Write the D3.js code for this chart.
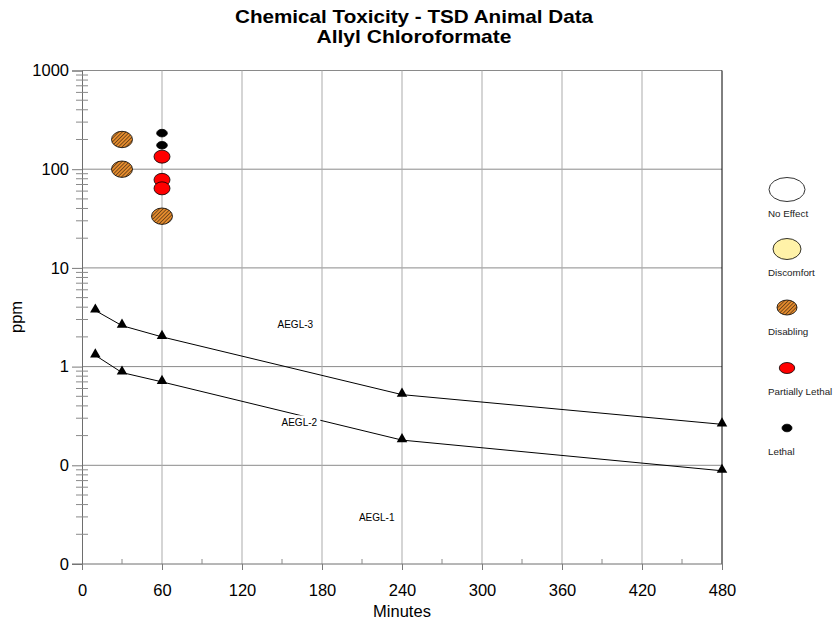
<!DOCTYPE html>
<html><head><meta charset="utf-8">
<script src="https://cdn.jsdelivr.net/npm/d3@7/dist/d3.min.js"></script>
<style>body{margin:0;background:#fff}svg{display:block;font-family:"Liberation Sans",Arial,sans-serif}</style>
</head><body><svg id="c" width="833" height="623"></svg>
<script>
// ---- data ----
const titleLines = ["Chemical Toxicity - TSD Animal Data", "Allyl Chloroformate"];
const xTicks = [0, 60, 120, 180, 240, 300, 360, 420, 480];
const xMinorTicks = [30, 90, 150, 210, 270, 330, 390, 450];
const yTicks = [0.01, 0.1, 1, 10, 100, 1000];
const yTickLabels = ["0", "0", "1", "10", "100", "1000"];
const aeglTimes = [10, 30, 60, 240, 480];
const aegl3 = [3.7, 2.6, 2.0, 0.52, 0.26];
const aegl2 = [1.3, 0.87, 0.70, 0.18, 0.088];
const disablingTimes = [30, 30, 60];
const disablingPpm = [200, 100, 33.4];
const partialTimes = [60, 60, 60];
const partialPpm = [134, 78, 64];
const lethalTimes = [60, 60];
const lethalPpm = [232, 175];
const legendLabels = ["No Effect", "Discomfort", "Disabling", "Partially Lethal", "Lethal"];
const aeglLabels = ["AEGL-3", "AEGL-2", "AEGL-1"];
const aeglLabelPos = [[160, 2.7], [163, 0.272], [221, 0.0296]]; // [minutes, ppm] label centres

// ---- layout ----
const L = 82, R = 722, T = 70.5, B = 564;
const svg = d3.select("#c");
const x = d3.scaleLinear().domain([0, 480]).range([L, R]);
const y = d3.scaleLog().domain([0.01, 1000]).range([B, T]);

const defs = svg.append("defs");
const pat = defs.append("pattern").attr("id", "hatch").attr("patternUnits", "userSpaceOnUse")
  .attr("width", 2.6).attr("height", 2.6).attr("patternTransform", "rotate(45)");
pat.append("rect").attr("width", 2.6).attr("height", 2.6).attr("fill", "#e58c2e");
pat.append("line").attr("x1", 0).attr("y1", 0).attr("x2", 0).attr("y2", 2.6).attr("stroke", "#2a1a0a").attr("stroke-width", 1.1);

// title
const titleW = [358, 195];
svg.append("g").selectAll("text").data(titleLines).join("text")
  .attr("x", 414).attr("y", (d, i) => 23 + i * 20).attr("text-anchor", "middle")
  .attr("font-size", 18.5).attr("font-weight", "bold").attr("fill", "#000")
  .attr("textLength", (d, i) => titleW[i]).attr("lengthAdjust", "spacingAndGlyphs")
  .text(d => d);

// gridlines
const grid = svg.append("g");
grid.selectAll(".hg").data(yTicks.filter(v => v > 0.01)).join("line")
  .attr("x1", L).attr("x2", R).attr("y1", d => y(d)).attr("y2", d => y(d))
  .attr("stroke", "#8a8a8a").attr("stroke-width", 1);
grid.selectAll(".vg").data(xTicks.filter(v => v > 0 && v < 480)).join("line")
  .attr("x1", d => x(d)).attr("x2", d => x(d)).attr("y1", T).attr("y2", B)
  .attr("stroke", "#ababab").attr("stroke-width", 1);
// right border
svg.append("line").attr("x1", x(480)).attr("x2", x(480)).attr("y1", T).attr("y2", B)
  .attr("stroke", "#000").attr("stroke-width", 1);

// y axis
const minor = [];
[0.01, 0.1, 1, 10, 100].forEach(d => { for (let k = 2; k <= 9; k++) minor.push(k * d); });
const yAxis = d3.axisLeft(y).tickValues(yTicks).tickSize(10).tickPadding(3)
  .tickFormat((d, i) => yTickLabels[i]);
const ya = svg.append("g").attr("transform", `translate(${L},0)`).call(yAxis);
ya.select(".domain").attr("stroke", "#6e6e6e");
ya.selectAll(".tick line").attr("stroke", "#7a7a7a");
ya.selectAll(".tick text").attr("font-size", 16.5).attr("fill", "#000").attr("font-family", "Liberation Sans, Arial, sans-serif");
svg.append("g").selectAll("line").data(minor).join("line")
  .attr("x1", L - 6).attr("x2", L + 6).attr("y1", d => y(d)).attr("y2", d => y(d))
  .attr("stroke", "#8a8a8a");

// x axis
const xAxis = d3.axisBottom(x).tickValues(xTicks).tickSize(6).tickPadding(14);
const xa = svg.append("g").attr("transform", `translate(0,${B})`).call(xAxis);
xa.select(".domain").attr("stroke", "#6e6e6e").attr("d", `M${L - 10},0H${R}`);
xa.selectAll(".tick line").attr("stroke", "#7a7a7a");
xa.selectAll(".tick text").attr("font-size", 16.5).attr("fill", "#000").attr("font-family", "Liberation Sans, Arial, sans-serif");
svg.append("g").selectAll("line").data(xMinorTicks).join("line")
  .attr("x1", d => x(d)).attr("x2", d => x(d)).attr("y1", B - 5).attr("y2", B)
  .attr("stroke", "#8a8a8a");

// axis titles
svg.append("text").attr("x", x(240)).attr("y", 617).attr("text-anchor", "middle")
  .attr("font-size", 16.5).text("Minutes");
svg.append("text").attr("transform", "translate(22,317) rotate(-90)").attr("text-anchor", "middle")
  .attr("font-size", 16.5).text("ppm");

// AEGL lines
const line = d3.line().x(d => x(d[0])).y(d => y(d[1]));
[aegl3, aegl2].forEach(vals => {
  const pts = aeglTimes.map((t, i) => [t, vals[i]]);
  svg.append("path").datum(pts).attr("d", line).attr("fill", "none").attr("stroke", "#000").attr("stroke-width", 1);
  svg.append("g").selectAll("path").data(pts).join("path")
    .attr("transform", d => `translate(${x(d[0])},${y(d[1]) - 1})`)
    .attr("d", d3.symbol(d3.symbolTriangle, 48)).attr("fill", "#000");
});

// AEGL labels with white boxes
aeglLabels.forEach((lab, i) => {
  const cx = x(aeglLabelPos[i][0]), cy = y(aeglLabelPos[i][1]);
  svg.append("rect").attr("x", cx - 21).attr("y", cy - 7).attr("width", 42).attr("height", 14).attr("fill", "#fff");
  svg.append("text").attr("x", cx).attr("y", cy + 3.5).attr("text-anchor", "middle")
    .attr("font-size", 10).text(lab);
});

// animal data
function ell(ts, ps, rx, ry, fill) {
  svg.append("g").selectAll("ellipse").data(ts.map((t, i) => [t, ps[i]])).join("ellipse")
    .attr("cx", d => x(d[0])).attr("cy", d => y(d[1])).attr("rx", rx).attr("ry", ry)
    .attr("fill", fill).attr("stroke", "#000").attr("stroke-width", 0.8);
}
ell(disablingTimes, disablingPpm, 10.5, 8.2, "url(#hatch)");
ell(partialTimes, partialPpm, 8, 6.5, "#ff0000");
ell(lethalTimes, lethalPpm, 5.3, 3.8, "#000");

// legend
const legFill = ["#ffffff", "#fff2a8", "url(#hatch)", "#ff0000", "#000"];
const legR = [[18, 12], [14, 10.5], [10, 7.5], [7.7, 5.5], [5, 3.8]];
const legY = [189.5, 249, 307.5, 368, 428];
const lg = svg.append("g");
legendLabels.forEach((lab, i) => {
  lg.append("ellipse").attr("cx", 787).attr("cy", legY[i]).attr("rx", legR[i][0]).attr("ry", legR[i][1])
    .attr("fill", legFill[i]).attr("stroke", "#000").attr("stroke-width", 0.8);
  lg.append("text").attr("x", 768).attr("y", legY[i] + 27).attr("font-size", 9.8).attr("fill", "#222").text(lab);
});
</script></body></html>
